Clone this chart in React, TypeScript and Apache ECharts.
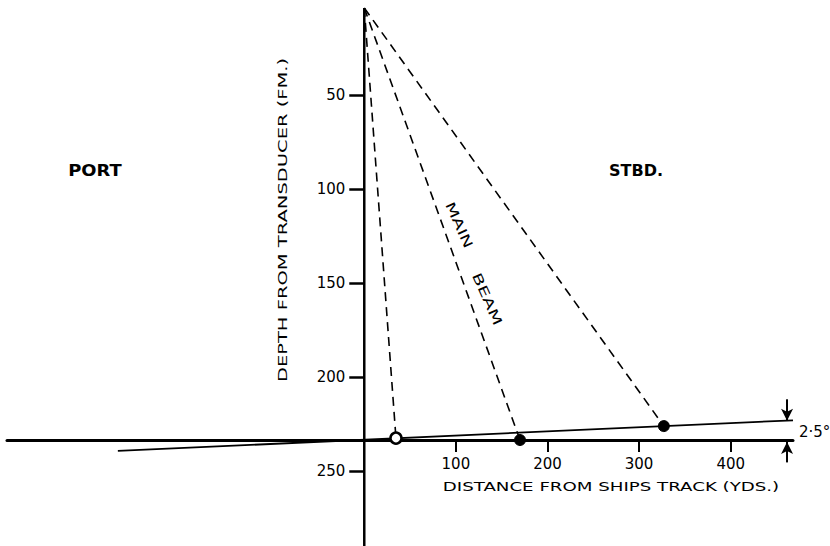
import React, { useEffect, useRef } from 'react';
import * as echarts from 'echarts';

// Depth axis (fathoms) tick labels and distance axis (yards) tick labels
const depthTicks = [50, 100, 150, 200, 250];
const distanceTicks = [100, 200, 300, 400];
const distanceRange = [-390, 468];
const depthRange = [0, 290];

// Transducer position [distance, depth]
const transducer = [0, 3.7];
// Beam hits on the bottom [distance, depth]
const beamHits = [
  [34.6, 232.6],
  [170, 233.6],
  [327, 226.2],
];
// Sloping bottom (2.5°)
const slopeBottom = [
  [-269, 239.4],
  [468, 223.1],
];
const verticalAxis = [
  [0, 3.7],
  [0, 290],
];
const arrowDown = [
  [461.5, 212.0],
  [461.5, 223.4],
];
const arrowUp = [
  [461.5, 245.5],
  [461.5, 234.6],
];

const INK = '#000';
const FONT = 'DejaVu Sans';
const W = 830;
const GRID_LEFT = 7;
const GRID_RIGHT = 37;

export default function App() {
  const ref = useRef<HTMLDivElement>(null);

  useEffect(() => {
    document.body.style.margin = '0';
    const chart = echarts.init(ref.current!, undefined, { renderer: 'svg' });

    // pixel position of distance 0 (where the depth axis stands)
    const plotW = W - GRID_LEFT - GRID_RIGHT;
    const zeroX =
      GRID_LEFT + ((0 - distanceRange[0]) / (distanceRange[1] - distanceRange[0])) * plotW;

    const beamSeries = beamHits.map((hit) => ({
      type: 'line',
      xAxisIndex: 0,
      yAxisIndex: 0,
      data: [transducer, hit],
      symbol: 'none',
      lineStyle: { color: INK, width: 1.6, type: [9, 6] },
      z: 2,
    }));

    const arrowSeries = [arrowDown, arrowUp].map((seg) => ({
      type: 'line',
      xAxisIndex: 0,
      yAxisIndex: 0,
      data: seg,
      symbol: 'none',
      lineStyle: { color: INK, width: 1.8 },
      markLine: {
        silent: true,
        symbol: ['none', 'arrow'],
        symbolSize: [9, 12],
        label: { show: false },
        lineStyle: { color: INK, width: 1.8, type: 'solid' },
        itemStyle: { color: INK },
        data: [[{ coord: seg[0] }, { coord: seg[1] }]],
      },
      z: 3,
    }));

    const option: any = {
      animation: false,
      backgroundColor: '#fff',
      grid: [
        { left: GRID_LEFT, right: GRID_RIGHT, top: 1, bottom: 0, containLabel: false, outerBoundsMode: 'none' },
        { left: GRID_LEFT, right: GRID_RIGHT, top: 439, height: 1, containLabel: false, outerBoundsMode: 'none' },
        { left: zeroX, width: 1, top: 1, bottom: 0, containLabel: false, outerBoundsMode: 'none' },
      ],
      xAxis: [
        {
          type: 'value',
          gridIndex: 0,
          min: distanceRange[0],
          max: distanceRange[1],
          show: false,
        },
        {
          type: 'value',
          gridIndex: 1,
          min: distanceRange[0],
          max: distanceRange[1],
          position: 'bottom',
          axisLine: { show: true, onZero: false, lineStyle: { color: INK, width: 3 } },
          axisTick: {
            show: true,
            customValues: distanceTicks,
            length: 12,
            lineStyle: { color: INK, width: 2 },
          },
          axisLabel: {
            show: true,
            customValues: distanceTicks,
            margin: 16,
            color: INK,
            fontSize: 15,
            fontFamily: FONT,
          },
          splitLine: { show: false },
        },
        {
          type: 'value',
          gridIndex: 2,
          min: 0,
          max: 1,
          show: false,
        },
      ],
      yAxis: [
        {
          type: 'value',
          gridIndex: 0,
          inverse: true,
          min: depthRange[0],
          max: depthRange[1],
          show: false,
        },
        {
          type: 'value',
          gridIndex: 1,
          min: 0,
          max: 1,
          show: false,
        },
        {
          type: 'value',
          gridIndex: 2,
          inverse: true,
          position: 'left',
          min: depthRange[0],
          max: depthRange[1],
          axisLine: { show: false, onZero: false },
          axisTick: {
            show: true,
            customValues: depthTicks,
            length: 15,
            lineStyle: { color: INK, width: 2.5 },
          },
          axisLabel: {
            show: true,
            customValues: depthTicks,
            margin: 19,
            color: INK,
            fontSize: 15,
            fontFamily: FONT,
          },
          splitLine: { show: false },
        },
      ],
      graphic: [
        {
          type: 'text', x: 95, y: 170, scaleX: 1.12,
          style: { text: 'PORT', fill: INK, font: `bold 16px "${FONT}"`, align: 'center', verticalAlign: 'middle' },
        },
        {
          type: 'text', x: 636, y: 170, scaleX: 1.0,
          style: { text: 'STBD.', fill: INK, font: `bold 16px "${FONT}"`, align: 'center', verticalAlign: 'middle' },
        },
        {
          type: 'text', x: 459, y: 225, rotation: (-66 * Math.PI) / 180, scaleX: 1.45,
          style: { text: 'MAIN', fill: INK, font: `13px "${FONT}"`, align: 'center', verticalAlign: 'middle' },
        },
        {
          type: 'text', x: 487, y: 299, rotation: (-66 * Math.PI) / 180, scaleX: 1.5,
          style: { text: 'BEAM', fill: INK, font: `13px "${FONT}"`, align: 'center', verticalAlign: 'middle' },
        },
        {
          type: 'text', x: 283, y: 220, rotation: Math.PI / 2, scaleX: 1.5,
          style: { text: 'DEPTH FROM TRANSDUCER (FM.)', fill: INK, font: `13px "${FONT}"`, align: 'center', verticalAlign: 'middle' },
        },
        {
          type: 'text', x: 611, y: 486, scaleX: 1.4,
          style: { text: 'DISTANCE FROM SHIPS TRACK (YDS.)', fill: INK, font: `13px "${FONT}"`, align: 'center', verticalAlign: 'middle' },
        },
        {
          type: 'text', x: 799, y: 432,
          style: { text: '2·5°', fill: INK, font: `15px "${FONT}"`, align: 'left', verticalAlign: 'middle' },
        },
      ],
      series: [
        {
          type: 'line',
          xAxisIndex: 0,
          yAxisIndex: 0,
          data: verticalAxis,
          symbol: 'none',
          lineStyle: { color: INK, width: 2.5 },
          z: 3,
        },
        {
          type: 'line',
          xAxisIndex: 0,
          yAxisIndex: 0,
          data: slopeBottom,
          symbol: 'none',
          lineStyle: { color: INK, width: 1.8 },
          z: 3,
        },
        ...beamSeries,
        ...arrowSeries,
        {
          type: 'scatter',
          xAxisIndex: 0,
          yAxisIndex: 0,
          symbolSize: 11,
          z: 5,
          data: beamHits.map((p, i) => ({
            value: p,
            itemStyle:
              i === 0
                ? { color: '#fff', borderColor: INK, borderWidth: 2.5, opacity: 1 }
                : { color: INK, borderColor: INK, borderWidth: 1, opacity: 1 },
          })),
        },
      ],
    };

    chart.setOption(option);
    return () => chart.dispose();
  }, []);

  return <div ref={ref} style={{ width: 830, height: 546 }} />;
}
